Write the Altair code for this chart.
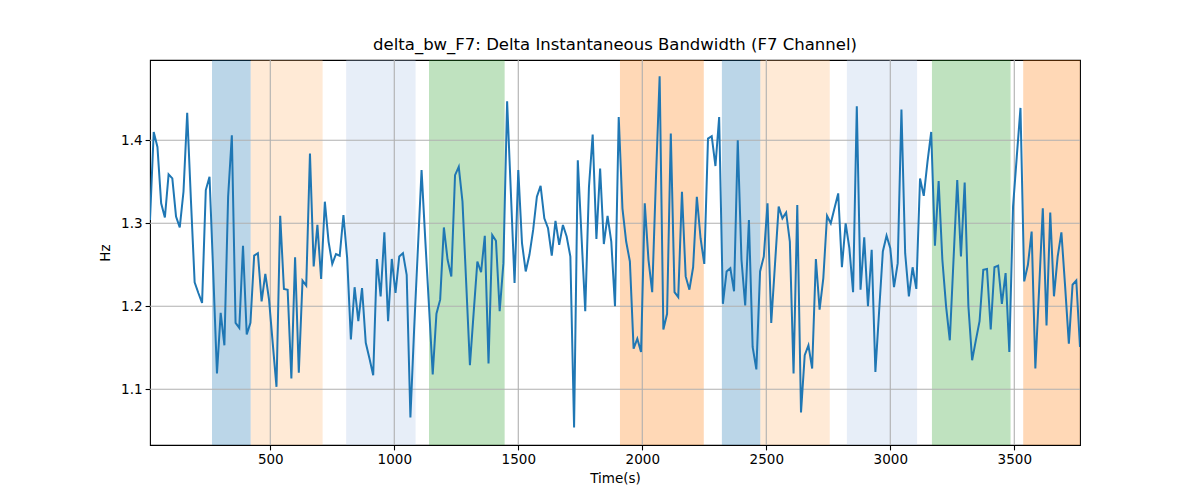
import altair as alt
import pandas as pd

# ---- data ----
values = [
    1.304, 1.410, 1.392, 1.324, 1.307, 1.359, 1.354, 1.308, 1.295, 1.338,
    1.433, 1.328, 1.229, 1.216, 1.204, 1.340, 1.356, 1.240, 1.119, 1.192,
    1.153, 1.332, 1.406, 1.180, 1.174, 1.273, 1.166, 1.180, 1.261, 1.264,
    1.206, 1.239, 1.208, 1.155, 1.103, 1.309, 1.221, 1.220, 1.113, 1.259,
    1.120, 1.231, 1.225, 1.384, 1.248, 1.298, 1.233, 1.326, 1.278, 1.251,
    1.263, 1.261, 1.310, 1.258, 1.160, 1.223, 1.182, 1.222, 1.156, 1.137,
    1.117, 1.257, 1.212, 1.289, 1.182, 1.257, 1.216, 1.260, 1.264, 1.238,
    1.066, 1.172, 1.268, 1.364, 1.280, 1.200, 1.118, 1.191, 1.208, 1.295,
    1.256, 1.236, 1.358, 1.368, 1.326, 1.228, 1.129, 1.192, 1.254, 1.241,
    1.285, 1.131, 1.286, 1.279, 1.194, 1.252, 1.447, 1.338, 1.228, 1.364,
    1.276, 1.242, 1.262, 1.292, 1.332, 1.345, 1.306, 1.294, 1.261, 1.303,
    1.274, 1.298, 1.284, 1.260, 1.054, 1.376, 1.284, 1.194, 1.344, 1.407,
    1.281, 1.366, 1.275, 1.309, 1.278, 1.200, 1.428, 1.318, 1.278, 1.254,
    1.149, 1.161, 1.145, 1.324, 1.256, 1.217, 1.353, 1.477, 1.172, 1.191,
    1.408, 1.217, 1.211, 1.338, 1.236, 1.220, 1.247, 1.332, 1.282, 1.251,
    1.402, 1.405, 1.369, 1.428, 1.203, 1.242, 1.246, 1.218, 1.400, 1.256,
    1.201, 1.304, 1.151, 1.124, 1.242, 1.260, 1.324, 1.180, 1.250, 1.320,
    1.306, 1.313, 1.278, 1.119, 1.322, 1.072, 1.141, 1.153, 1.125, 1.257,
    1.196, 1.234, 1.309, 1.300, 1.318, 1.336, 1.247, 1.300, 1.270, 1.217,
    1.441, 1.220, 1.283, 1.200, 1.268, 1.121, 1.194, 1.266, 1.285, 1.270,
    1.223, 1.252, 1.437, 1.264, 1.212, 1.247, 1.221, 1.354, 1.333, 1.374,
    1.410, 1.273, 1.351, 1.256, 1.200, 1.159, 1.256, 1.352, 1.260, 1.349,
    1.200, 1.135, 1.159, 1.182, 1.244, 1.245, 1.172, 1.247, 1.249, 1.203,
    1.240, 1.145, 1.320, 1.380, 1.439, 1.230, 1.250, 1.290, 1.125, 1.220,
    1.318, 1.177, 1.313, 1.212, 1.260, 1.289, 1.224, 1.155, 1.226, 1.231,
    1.151,
]
time_step = 15
times = [time_step * (i + 1) for i in range(len(values))]

span_start = [265, 421, 806, 1140, 1910, 2321, 2476, 2825, 3168, 3536]
span_end = [421, 711, 1086, 1445, 2248, 2476, 2756, 3108, 3485, 3765]
span_kind = ["k1", "k2", "k3", "k4", "k5", "k1", "k2", "k3", "k4", "k5"]

x_ticks = [500, 1000, 1500, 2000, 2500, 3000, 3500]
y_ticks = [1.1, 1.2, 1.3, 1.4]

x_domain = [15, 3765]
y_domain = [1.0329, 1.4967]

title_text = "delta_bw_F7: Delta Instantaneous Bandwidth (F7 Channel)"
x_title = "Time(s)"
y_title = "Hz"

# ---- tables ----
line_df = pd.DataFrame({"t": times, "v": values})
span_df = pd.DataFrame({"t": span_start, "e": span_end, "kind": span_kind})
xg_df = pd.DataFrame({"t": x_ticks})
yg_df = pd.DataFrame({"v": y_ticks})

W, H = 930, 385
FONT = "DejaVu Sans"

xs = alt.Scale(domain=x_domain, nice=False, zero=False)
ys = alt.Scale(domain=y_domain, nice=False, zero=False)

x_enc = alt.X("t:Q", scale=xs, title=x_title,
              axis=alt.Axis(values=x_ticks, format="d", grid=False))
y_enc = alt.Y("v:Q", scale=ys, title=y_title,
              axis=alt.Axis(values=y_ticks, format=".1f", grid=False))

spans = alt.Chart(span_df).mark_rect(opacity=0.3, clip=True).encode(
    x=x_enc,
    x2="e:Q",
    y=alt.value(0),
    y2=alt.value(H),
    color=alt.Color(
        "kind:N",
        scale=alt.Scale(
            domain=["k1", "k2", "k3", "k4", "k5"],
            range=["#1f77b4", "#ffbb78", "#aec7e8", "#2ca02c", "#ff7f0e"],
        ),
        legend=None,
    ),
)

xgrid = alt.Chart(xg_df).mark_rule(color="#b0b0b0", strokeWidth=1.1).encode(
    x=x_enc
)
ygrid = alt.Chart(yg_df).mark_rule(color="#b0b0b0", strokeWidth=1.1).encode(
    y=y_enc
)

line = alt.Chart(line_df).mark_line(color="#1f77b4", strokeWidth=2, clip=True).encode(
    x=x_enc,
    y=y_enc,
)

chart = (
    alt.layer(spans, xgrid, ygrid, line)
    .properties(
        width=W,
        height=H,
        title=alt.TitleParams(
            title_text, fontSize=16.5, fontWeight="normal", font=FONT,
            color="black", anchor="middle", offset=6,
        ),
        autosize=alt.AutoSizeParams(type="none"),
        padding={"left": 142, "top": 52, "right": 20, "bottom": 45},
    )
    .configure_view(stroke="black", strokeWidth=1.1)
    .configure_axis(
        domain=False,
        ticks=True,
        tickColor="black",
        tickSize=4.9,
        tickWidth=1.1,
        labelFont=FONT,
        labelFontSize=13.5,
        labelColor="black",
        labelPadding=3,
        titleFont=FONT,
        titleFontSize=13.5,
        titleFontWeight="normal",
        titleColor="black",
    )
    .configure_axisX(titlePadding=5)
    .configure_axisY(titlePadding=8)
)

chart.save("out.html", embed_options={"renderer": "svg", "actions": False})
